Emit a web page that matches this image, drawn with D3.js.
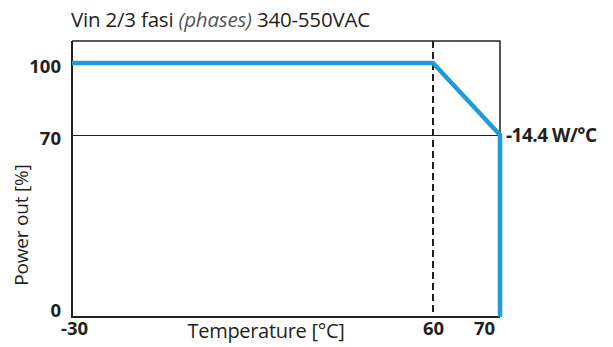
<!DOCTYPE html>
<html>
<head>
<meta charset="utf-8">
<script src="https://cdn.jsdelivr.net/npm/d3@7"></script>
<style>
body { margin: 0; background: #fff; }
text { font-family: "Open Sans", sans-serif; fill: #231f20; }
</style>
</head>
<body>
<div id="chart"></div>
<script>
// derating curve: temperature (°C) vs power out (%)
var temps = [-30, 60, 70, 70];
var power = [100, 100, 70, 0];
var xTicks = [-30, 60, 70];
var yTicks = [0, 70, 100];
var slopeLabel = "-14.4 W/°C";

var width = 613, height = 347;
var frame = { left: 72, right: 500, top: 41, bottom: 317 };

var svg = d3.select("#chart").append("svg")
    .attr("width", width)
    .attr("height", height);

// the picture is not to scale, so the scales are piecewise
var x = d3.scaleLinear().domain([-30, 60, 70]).range([frame.left, 433, frame.right]);
var y = d3.scaleLinear().domain([0, 70, 100]).range([frame.bottom, 135, 63]);

// title
var title = svg.append("text")
    .attr("x", 71)
    .attr("y", 27)
    .style("font-size", "20.5px")
    .style("letter-spacing", "-0.2px");
title.append("tspan").text("Vin 2/3 fasi ");
title.append("tspan").style("font-style", "italic").style("fill", "#555").text("(phases)");
title.append("tspan").text(" 340-550VAC");

// gridline at 70%
svg.append("line")
    .attr("x1", frame.left).attr("x2", frame.right)
    .attr("y1", y(70) + 0.5).attr("y2", y(70) + 0.5)
    .attr("stroke", "#231f20").attr("stroke-width", 1);

// dashed at 60°C
svg.append("line")
    .attr("x1", x(60)).attr("x2", x(60))
    .attr("y1", frame.top).attr("y2", frame.bottom)
    .attr("stroke", "#231f20").attr("stroke-width", 2)
    .attr("stroke-dasharray", "7,4");

// frame
svg.append("path")
    .attr("d", "M" + frame.left + "," + frame.top + "H" + frame.right + "V" + frame.bottom)
    .attr("fill", "none").attr("stroke", "#231f20").attr("stroke-width", 1.5);
svg.append("path")
    .attr("d", "M" + frame.left + "," + frame.top + "V" + frame.bottom + "H" + frame.right)
    .attr("fill", "none").attr("stroke", "#231f20").attr("stroke-width", 2);

// curve
var line = d3.line()
    .x(function (d, i) { return x(temps[i]); })
    .y(function (d) { return y(d); });
svg.append("path")
    .datum(power)
    .attr("d", line)
    .attr("fill", "none")
    .attr("stroke", "#1f9bd7")
    .attr("stroke-width", 4.5)
    .attr("stroke-linejoin", "round");

// y axis
var yAxis = svg.append("g")
    .attr("transform", "translate(" + (frame.left - 11) + ",0)")
    .call(d3.axisLeft(y).tickValues(yTicks).tickSize(0).tickPadding(0).tickFormat(String));
yAxis.select(".domain").remove();
yAxis.selectAll("text")
    .style("font-size", "18.5px").style("font-weight", "bold")
    .attr("fill", "#231f20")
    .attr("dy", function (d) { return d === 0 ? "-0.05em" : "0.5em"; });

// x axis
var xAxis = svg.append("g")
    .attr("transform", "translate(0," + frame.bottom + ")")
    .call(d3.axisBottom(x).tickValues(xTicks).tickSize(0).tickPadding(5).tickFormat(String));
xAxis.select(".domain").remove();
xAxis.selectAll("text")
    .style("font-size", "18.5px").style("font-weight", "bold")
    .attr("fill", "#231f20")
    .attr("dx", function (d) { return d === 70 ? "-16" : (d === -30 ? "2" : "0"); });

// slope annotation
svg.append("text")
    .attr("x", frame.right + 6)
    .attr("y", y(70) + 7)
    .style("font-size", "19px").style("font-weight", "bold")
    .style("letter-spacing", "-0.5px")
    .text(slopeLabel);

// axis titles
svg.append("text")
    .attr("x", 266)
    .attr("y", 338)
    .attr("text-anchor", "middle")
    .style("font-size", "20px")
    .style("letter-spacing", "-0.3px")
    .text("Temperature [°C]");

svg.append("text")
    .attr("transform", "translate(28,225) rotate(-90)")
    .attr("text-anchor", "middle")
    .style("font-size", "19px")
    .style("letter-spacing", "-0.2px")
    .text("Power out [%]");
</script>
</body>
</html>
